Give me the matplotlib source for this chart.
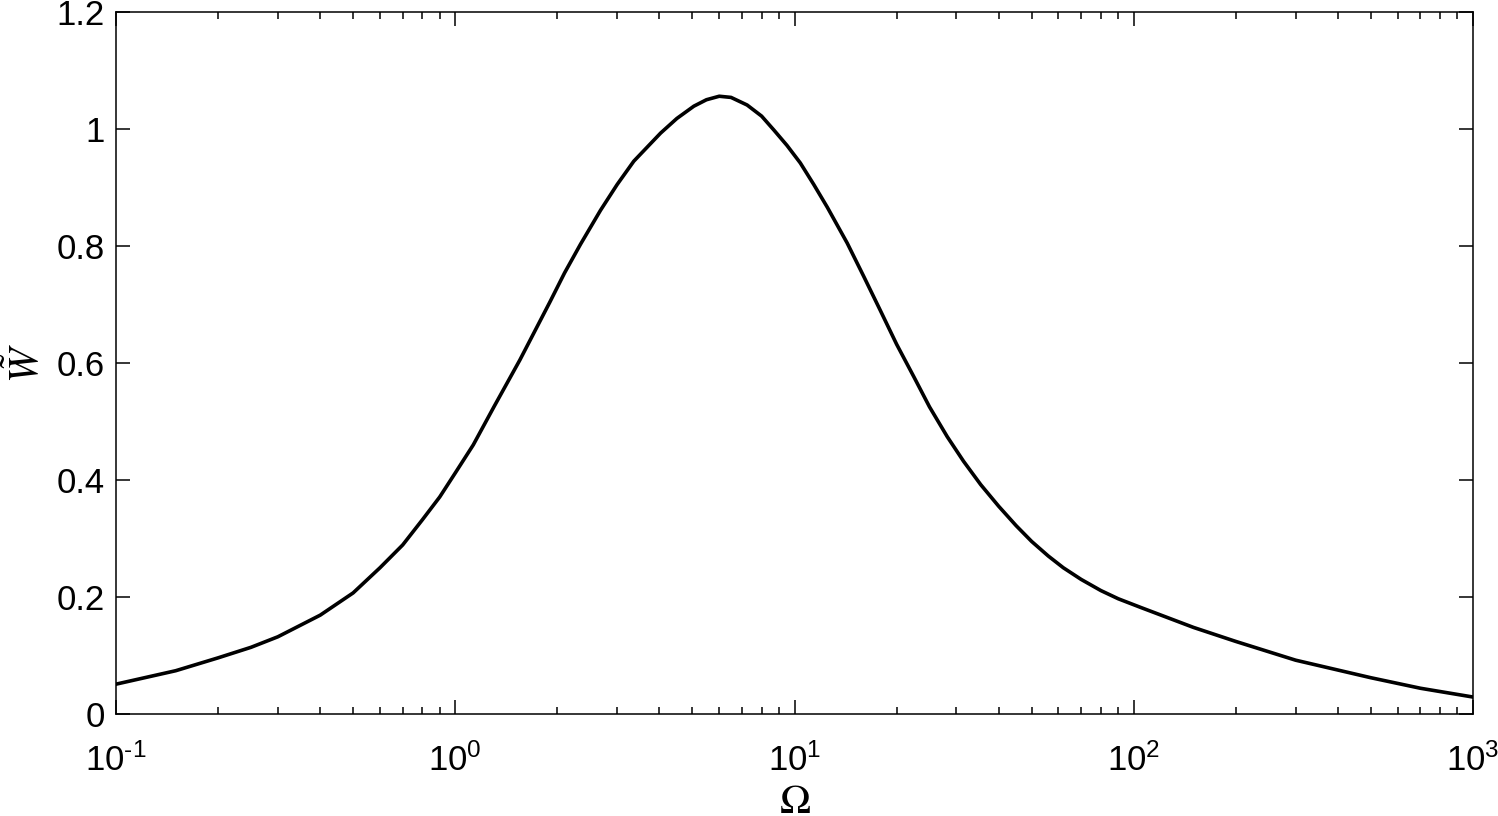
import numpy as np
import matplotlib
matplotlib.use("Agg")
import matplotlib.pyplot as plt
from matplotlib.ticker import LogLocator, NullFormatter

# values
omega = [0.1, 0.15, 0.2, 0.25, 0.3, 0.4, 0.5, 0.6, 0.7, 0.8, 0.9, 1.0,
         1.13, 1.3, 1.55, 1.9, 2.1, 2.34, 2.68, 3.0, 3.36, 4.03, 4.5,
         5.05, 5.5, 6.0, 6.5, 7.25, 8.0, 8.7, 9.5, 10.4, 11.4, 12.5, 14.3,
         16, 17.9, 20, 22.5, 25, 28.2, 31.5, 35.4, 40, 45, 50, 56, 62, 70,
         80, 90, 105, 150, 200, 300, 500, 700, 1000]
w_tilde = [0.051, 0.074, 0.096, 0.114, 0.132, 0.169, 0.207, 0.250, 0.289,
           0.332, 0.371, 0.412, 0.460, 0.525, 0.605, 0.704, 0.754, 0.803,
           0.861, 0.905, 0.945, 0.993, 1.018, 1.039, 1.050, 1.056, 1.054,
           1.041, 1.022, 0.998, 0.972, 0.942, 0.905, 0.866, 0.805, 0.748,
           0.690, 0.632, 0.576, 0.525, 0.474, 0.432, 0.392, 0.355, 0.322,
           0.295, 0.270, 0.250, 0.230, 0.211, 0.197, 0.182, 0.148, 0.124,
           0.092, 0.062, 0.044, 0.029]
x_ticks = [0.1, 1, 10, 100, 1000]
x_ticklabels = [r"$10^{\text{-}1}$", r"$10^{0}$", r"$10^{1}$", r"$10^{2}$", r"$10^{3}$"]
y_ticks = [0, 0.2, 0.4, 0.6, 0.8, 1, 1.2]
y_ticklabels = ["0", "0.2", "0.4", "0.6", "0.8", "1", "1.2"]

plt.rcParams["font.family"] = ["Liberation Sans", "DejaVu Sans"]
plt.rcParams["mathtext.fontset"] = "custom"
plt.rcParams["mathtext.rm"] = "Liberation Sans"
plt.rcParams["mathtext.it"] = "Liberation Sans:italic"

fig = plt.figure(figsize=(14.98, 8.16), dpi=100)
ax = fig.add_axes([116 / 1498, 1 - 714 / 816, (1473 - 116) / 1498, (714 - 12) / 816])

ax.plot(omega, w_tilde, color="black", lw=2.6)
ax.set_xscale("log")
ax.set_xlim(0.1, 1000)
ax.set_ylim(0, 1.2)
ax.set_xticks(x_ticks, x_ticklabels)
ax.set_yticks(y_ticks, y_ticklabels)
ax.xaxis.set_minor_locator(LogLocator(base=10, subs=np.arange(2, 10), numticks=20))
ax.xaxis.set_minor_formatter(NullFormatter())

for s in ax.spines.values():
    s.set_linewidth(1.1)
ax.tick_params(which="both", direction="in", top=True, right=True, width=1.1)
ax.tick_params(which="major", length=10, labelsize=25)
ax.tick_params(which="minor", length=5)
ax.tick_params(axis="x", which="major", pad=21)
ax.tick_params(axis="y", which="major", pad=8)

ax.set_xlabel(r"$\Omega$", fontsize=30, math_fontfamily="stix", labelpad=3)
ax.set_ylabel(r"$\tilde{W}$", fontsize=30, math_fontfamily="stix", labelpad=6)

fig.savefig("out.png", dpi=100)
